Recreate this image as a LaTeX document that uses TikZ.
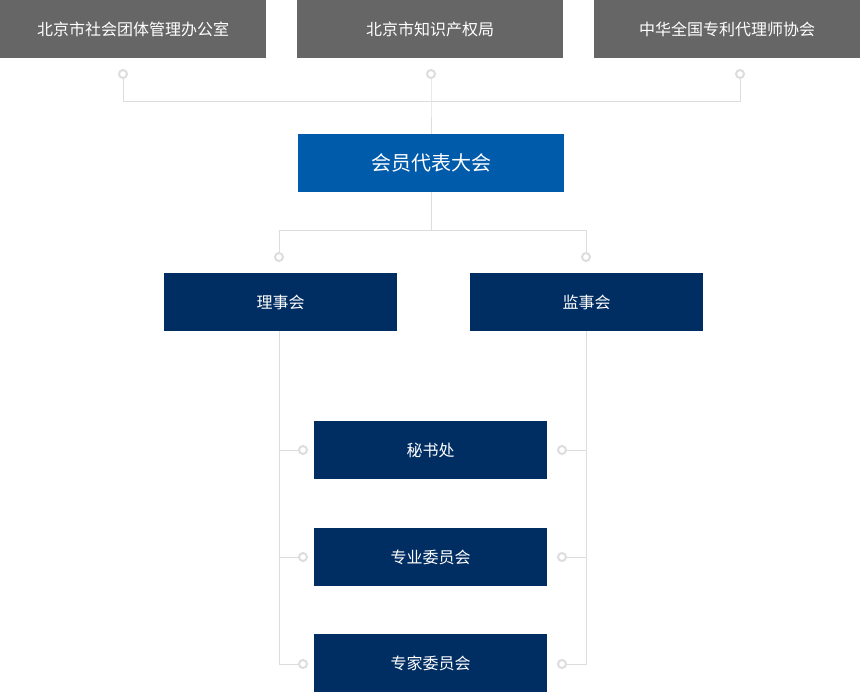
\documentclass[tikz,border=0pt]{standalone}
\usepackage{fontspec}
\setmainfont{Noto Sans CJK SC}
\definecolor{topgray}{HTML}{666666}
\definecolor{midblue}{HTML}{005BAB}
\definecolor{navy}{HTML}{002D62}
\definecolor{linegray}{HTML}{DDDDDD}
\begin{document}
\begin{tikzpicture}[x=0.75pt,y=-0.75pt,
  topbox/.style={fill=topgray,text=white,minimum width=199.5pt,minimum height=43.5pt,inner sep=0,font=\fontsize{12}{14}\selectfont},
  bluebox/.style={fill=midblue,text=white,minimum width=199.5pt,minimum height=43.5pt,inner sep=0,font=\fontsize{15}{18}\selectfont},
  navybox/.style={fill=navy,text=white,minimum width=174.75pt,minimum height=43.5pt,inner sep=0,font=\fontsize{12}{14}\selectfont},
  conn/.style={draw=linegray,line width=0.75pt},
  dot/.style={circle,draw=linegray,line width=1.5pt,fill=white,minimum size=6pt,inner sep=0}]
\useasboundingbox (0,0) rectangle (860,693);
\node[topbox] (t1) at (133,29) {北京市社会团体管理办公室};
\node[topbox] (t2) at (430,29) {北京市知识产权局};
\node[topbox] (t3) at (727,29) {中华全国专利代理师协会};
\node[bluebox] (g) at (431,163) {会员代表大会};
\node[navybox] (l) at (280.5,302) {理事会};
\node[navybox] (r) at (586.5,302) {监事会};
\node[navybox] (s1) at (430.5,450) {秘书处};
\node[navybox] (s2) at (430.5,557) {专业委员会};
\node[navybox] (s3) at (430.5,663) {专家委员会};
\coordinate (h1) at (123,101); \coordinate (h3) at (740,101); \coordinate (hm) at (431,101);
\coordinate (k) at (431,230); \coordinate (kl) at (279,230); \coordinate (kr) at (586,230);
\coordinate (lb) at (279,664); \coordinate (rb) at (586,664);
\draw[conn] (123,74) -- (h1) -- (h3) -- (740,74);
\draw[conn] (431,74) -- (hm) -- (g.north);
\draw[conn] (g.south) -- (k);
\draw[conn] (kl) -- (kr);
\draw[conn] (kl) -- (279,257); \draw[conn] (kr) -- (586,257);
\draw[conn] (l.south -| lb) -- (lb) -- (303,664);
\draw[conn] (r.south -| rb) -- (rb) -- (562,664);
\foreach \y in {450,557}{\draw[conn] (279,\y) -- (303,\y); \draw[conn] (562,\y) -- (586,\y);}
\foreach \p in {(123,74),(431,74),(740,74),(279,257),(586,257),(303,450),(303,557),(303,664),(562,450),(562,557),(562,664)}
  \node[dot] at \p {};
\end{tikzpicture}
\end{document}
